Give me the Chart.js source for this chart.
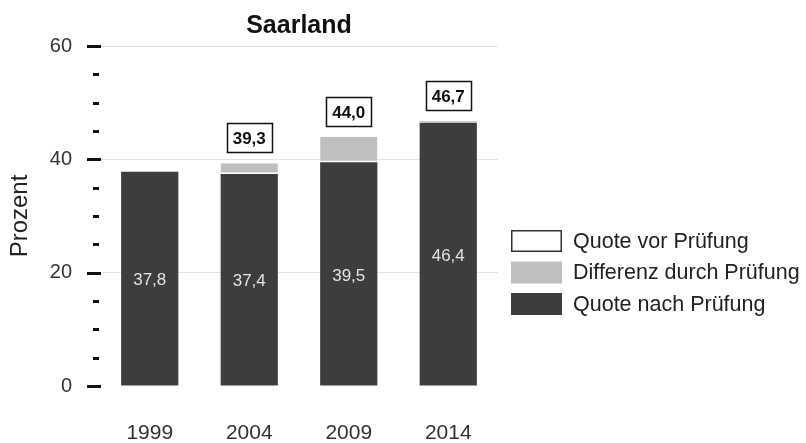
<!DOCTYPE html>
<html>
<head>
<meta charset="utf-8">
<script src="https://cdn.jsdelivr.net/npm/chart.js@4.4.0/dist/chart.umd.min.js"></script>
<style>
  html, body { margin: 0; padding: 0; background: #fff; }
  #wrap { width: 806px; height: 443px; }
</style>
</head>
<body>
<div id="wrap"><canvas id="c" width="806" height="443"></canvas></div>
<script>
// Wahlbeteiligung Saarland (Prozent)
const years = ['1999', '2004', '2009', '2014'];
const quoteNach = [37.8, 37.4, 39.5, 46.4];   // Quote nach Prüfung
const differenz = [0, 1.9, 4.5, 0.3];         // Differenz durch Prüfung
const quoteVor = [null, 39.3, 44.0, 46.7];    // Quote vor Prüfung
const yTickLabels = [0, 20, 40, 60];
const legendLabels = ['Quote vor Prüfung', 'Differenz durch Prüfung', 'Quote nach Prüfung'];

const FONT = "'Liberation Sans', Arial, sans-serif";
const DARK = '#3d3d3d';
const LIGHT = '#bfbfbf';

const fmt = v => v.toFixed(1).replace('.', ',');

// Achsenstriche, Werte in den Balken, Kästchen mit Quote vor Prüfung, Legende
const decorations = {
  id: 'decorations',
  afterDraw(chart) {
    const ctx = chart.ctx;
    const y = chart.scales.y;
    const area = chart.chartArea;
    ctx.save();

    // Striche an der y-Achse
    ctx.strokeStyle = '#111';
    ctx.lineWidth = 3;
    for (let v = 0; v <= 60; v += 5) {
      const py = Math.round(y.getPixelForValue(v)) + 0.5;
      const major = yTickLabels.includes(v);
      ctx.beginPath();
      if (major) { ctx.moveTo(area.left - 13, py); ctx.lineTo(area.left + 1, py); }
      else { ctx.moveTo(area.left - 7, py); ctx.lineTo(area.left - 1, py); }
      ctx.stroke();
    }

    // Werte in den dunklen Balken
    const metaNach = chart.getDatasetMeta(0);
    ctx.font = '17px ' + FONT;
    ctx.fillStyle = '#e2e2e2';
    ctx.textAlign = 'center';
    ctx.textBaseline = 'middle';
    metaNach.data.forEach((bar, i) => {
      ctx.fillText(fmt(quoteNach[i]), bar.x, (bar.y + bar.base) / 2 + 2);
    });

    // Kästchen: Quote vor Prüfung
    ctx.font = 'bold 17px ' + FONT;
    quoteVor.forEach((v, i) => {
      if (v === null) return;
      const bar = metaNach.data[i];
      const top = y.getPixelForValue(v);
      const w = 45, h = 29;
      const bx = Math.round(bar.x - w / 2) + 0.5;
      const by = Math.round(top - 11 - h) + 0.5;
      ctx.fillStyle = '#fff';
      ctx.fillRect(bx, by, w, h);
      ctx.strokeStyle = '#111';
      ctx.lineWidth = 1.5;
      ctx.strokeRect(bx, by, w, h);
      ctx.fillStyle = '#111';
      ctx.fillText(fmt(v), bar.x, by + h / 2 + 1);
    });

    // Legende
    const lx = 511, boxW = 51, boxH = 22;
    const centers = [241, 272.5, 304];
    const fills = ['#fff', LIGHT, DARK];
    ctx.font = '21.5px ' + FONT;
    ctx.textAlign = 'left';
    legendLabels.forEach((label, i) => {
      const cy = centers[i];
      ctx.fillStyle = fills[i];
      ctx.fillRect(lx, cy - boxH / 2, boxW, boxH);
      if (i === 0) {
        ctx.strokeStyle = '#333';
        ctx.lineWidth = 1.5;
        ctx.strokeRect(lx + 0.75, cy - boxH / 2 + 0.75, boxW - 1.5, boxH - 1.5);
      }
      ctx.fillStyle = '#222';
      ctx.fillText(label, lx + boxW + 11, cy + 1);
    });

    ctx.restore();
  }
};

new Chart(document.getElementById('c'), {
  type: 'bar',
  data: {
    labels: years,
    datasets: [
      {
        label: 'Quote nach Prüfung',
        data: quoteNach,
        backgroundColor: DARK,
        borderWidth: 0
      },
      {
        label: 'Differenz durch Prüfung',
        data: differenz,
        backgroundColor: LIGHT,
        borderColor: '#fff',
        // weiße Trennlinie nur bei sichtbarer Differenz
        borderWidth: c => ({ top: 0, left: 0, right: 0, bottom: (c.raw >= 1 ? 1.5 : 0) }),
        borderSkipped: false
      }
    ]
  },
  options: {
    responsive: false,
    devicePixelRatio: 1,
    animation: false,
    layout: { padding: { top: 0, right: 308, bottom: 0, left: 0 } },
    datasets: {
      bar: { categoryPercentage: 1, barPercentage: 0.575 }
    },
    plugins: {
      legend: { display: false },
      tooltip: { enabled: false },
      title: {
        display: true,
        text: 'Saarland',
        fullSize: false,
        color: '#111',
        font: { family: FONT, size: 25, weight: 'bold' },
        padding: { top: 11, bottom: 5 }
      }
    },
    scales: {
      x: {
        stacked: true,
        grid: { display: false, drawTicks: false },
        border: { display: false },
        ticks: {
          color: '#333',
          font: { family: FONT, size: 21 },
          padding: 35
        },
        afterFit(scale) { scale.height = 57; }
      },
      y: {
        stacked: true,
        min: 0,
        max: 60,
        border: { display: false },
        grid: {
          drawTicks: false,
          lineWidth: 1,
          color: c => (c.tick && c.tick.value > 0 && yTickLabels.includes(c.tick.value)) ? '#e2e2e2' : 'rgba(0,0,0,0)'
        },
        ticks: {
          stepSize: 5,
          color: '#333',
          font: { family: FONT, size: 20 },
          padding: 28,
          callback: v => yTickLabels.includes(v) ? String(v) : ''
        },
        title: {
          display: true,
          text: 'Prozent',
          color: '#222',
          font: { family: FONT, size: 24 },
          padding: { top: 6, bottom: 0 }
        },
        afterFit(scale) { scale.width = 100; }
      }
    }
  },
  plugins: [decorations]
});
</script>
</body>
</html>
